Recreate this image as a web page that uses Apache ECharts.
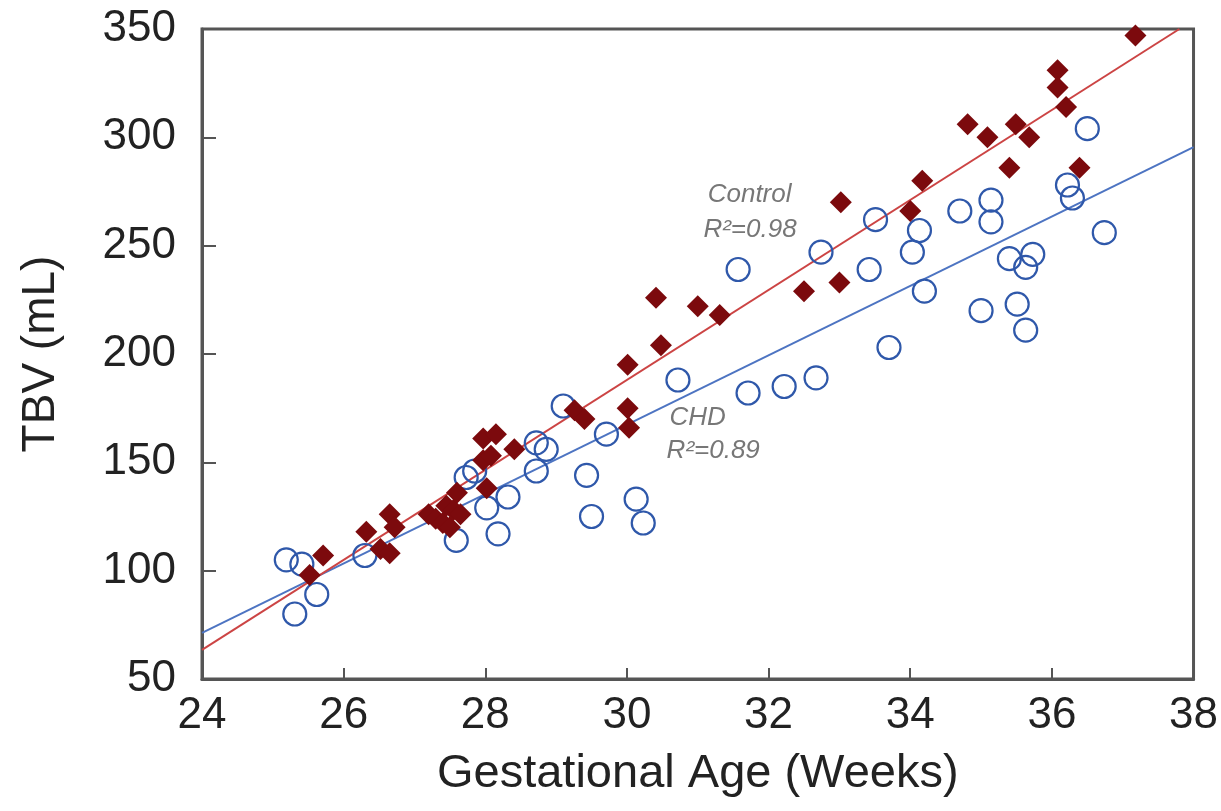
<!DOCTYPE html>
<html>
<head>
<meta charset="utf-8">
<script src="https://cdn.jsdelivr.net/npm/echarts@6/dist/echarts.min.js"></script>
<style>
html,body{margin:0;padding:0;background:#fff;}
#chart{width:1221px;height:811px;}
</style>
</head>
<body>
<div id="chart"></div>
<script>
// Control group (filled diamonds): gestational age (weeks), TBV (mL)
const controlAge = [25.52,25.71,26.32,26.52,26.65,26.65,26.72,27.2,27.3,27.4,27.45,27.5,27.55,27.6,27.65,28.02,27.97,28.15,27.97,28.08,28.41,29.26,29.4,30.01,30.01,30.03,30.41,30.48,31.0,31.31,32.5,33.0,33.02,34.0,34.17,34.81,35.09,35.4,35.49,35.68,36.08,36.08,36.2,36.39,37.18];
const controlTBV = [98,107,118,110,108,126,120,126,124,122,130,120,128,136,126,138,161,163,151,153,156,174,170,195,175,166,226,204,222,218,229,233,270,266,280,306,300,286,306,300,331,323,314,286,347];

// CHD group (open circles)
const chdAge = [25.19,25.41,25.62,25.31,26.3,27.59,27.73,27.85,28.02,28.18,28.32,28.72,28.72,28.86,29.1,29.43,29.5,29.71,30.13,30.23,30.72,31.57,31.71,32.22,32.67,32.74,33.42,33.51,33.7,34.03,34.13,34.2,34.7,35.0,35.14,35.14,35.4,35.51,35.63,35.63,35.73,36.22,36.29,36.5,36.74];
const chdTBV = [105,103,89,80,107,114,143,146,129,117,134,146,159,156,176,144,125,163,133,122,188,239,182,185,189,247,239,262,203,247,257,229,266,220,271,261,244,223,240,211,246,278,272,304,256];

// Regression line endpoints
const controlFitAge = [24, 37.8];
const controlFitTBV = [63.4, 350];
const chdFitAge = [24, 38];
const chdFitTBV = [71.3, 295.5];

// Annotation texts
const annoAge = [31.14, 31.08, 30.6, 30.56];
const annoTBV = [273.5, 257.5, 170.5, 155.5];
const annoText = ['Control', 'R²=0.98', 'CHD', 'R²=0.89'];

// Axis ticks
const xTicks = [24,26,28,30,32,34,36,38];
const yTicks = [50,100,150,200,250,300,350];

const zip = (a, b) => a.map((v, i) => [v, b[i]]);

const chart = echarts.init(document.getElementById('chart'), null, {renderer: 'canvas'});
const FONT = '"Liberation Sans", Arial, sans-serif';

chart.setOption({
  animation: false,
  backgroundColor: '#ffffff',
  grid: {
    left: 202, top: 29, width: 993, height: 650,
    show: true, borderColor: '#555', borderWidth: 3, backgroundColor: 'transparent'
  },
  xAxis: {
    type: 'value',
    min: xTicks[0], max: xTicks[xTicks.length - 1], interval: 2,
    name: 'Gestational Age (Weeks)',
    nameLocation: 'middle', nameGap: 72,
    nameTextStyle: {fontFamily: FONT, fontSize: 47, color: '#222'},
    axisLine: {show: true, onZero: false, lineStyle: {color: '#555', width: 3}},
    axisTick: {show: true, inside: true, length: 11, lineStyle: {color: '#555', width: 2}},
    axisLabel: {fontFamily: FONT, fontSize: 44, color: '#222', margin: 15},
    splitLine: {show: false}
  },
  yAxis: {
    type: 'value',
    min: yTicks[0], max: yTicks[yTicks.length - 1], interval: 50,
    name: 'TBV (mL)',
    nameLocation: 'middle', nameGap: 138,
    nameTextStyle: {fontFamily: FONT, fontSize: 46, color: '#222'},
    axisLine: {show: true, onZero: false, lineStyle: {color: '#555', width: 3}},
    axisTick: {show: true, inside: true, length: 14, lineStyle: {color: '#555', width: 2}},
    axisLabel: {fontFamily: FONT, fontSize: 44, color: '#222', margin: 26},
    splitLine: {show: false}
  },
  series: [
    {
      type: 'line', data: zip(chdFitAge, chdFitTBV), symbol: 'none', silent: true,
      lineStyle: {color: '#4d74c2', width: 2}, clip: true, z: 1
    },
    {
      type: 'line', data: zip(controlFitAge, controlFitTBV), symbol: 'none', silent: true,
      lineStyle: {color: '#cc4444', width: 2}, clip: true, z: 1
    },
    {
      name: 'CHD', type: 'scatter', data: zip(chdAge, chdTBV),
      symbol: 'circle', symbolSize: 23,
      itemStyle: {color: 'rgba(255,255,255,0)', borderColor: '#2f58aa', borderWidth: 2.2, opacity: 1},
      z: 2
    },
    {
      name: 'Control', type: 'scatter', data: zip(controlAge, controlTBV),
      symbol: 'diamond', symbolSize: 22,
      itemStyle: {color: '#7c0a0d', opacity: 1},
      z: 3
    },
    {
      type: 'scatter', silent: true, symbolSize: 0, z: 4,
      data: annoAge.map((a, i) => [a, annoTBV[i], annoText[i]]),
      label: {
        show: true, position: 'right', distance: 0,
        formatter: p => p.data[2],
        fontFamily: FONT, fontStyle: 'italic', fontSize: 26, color: '#555'
      }
    }
  ]
});
</script>
</body>
</html>
